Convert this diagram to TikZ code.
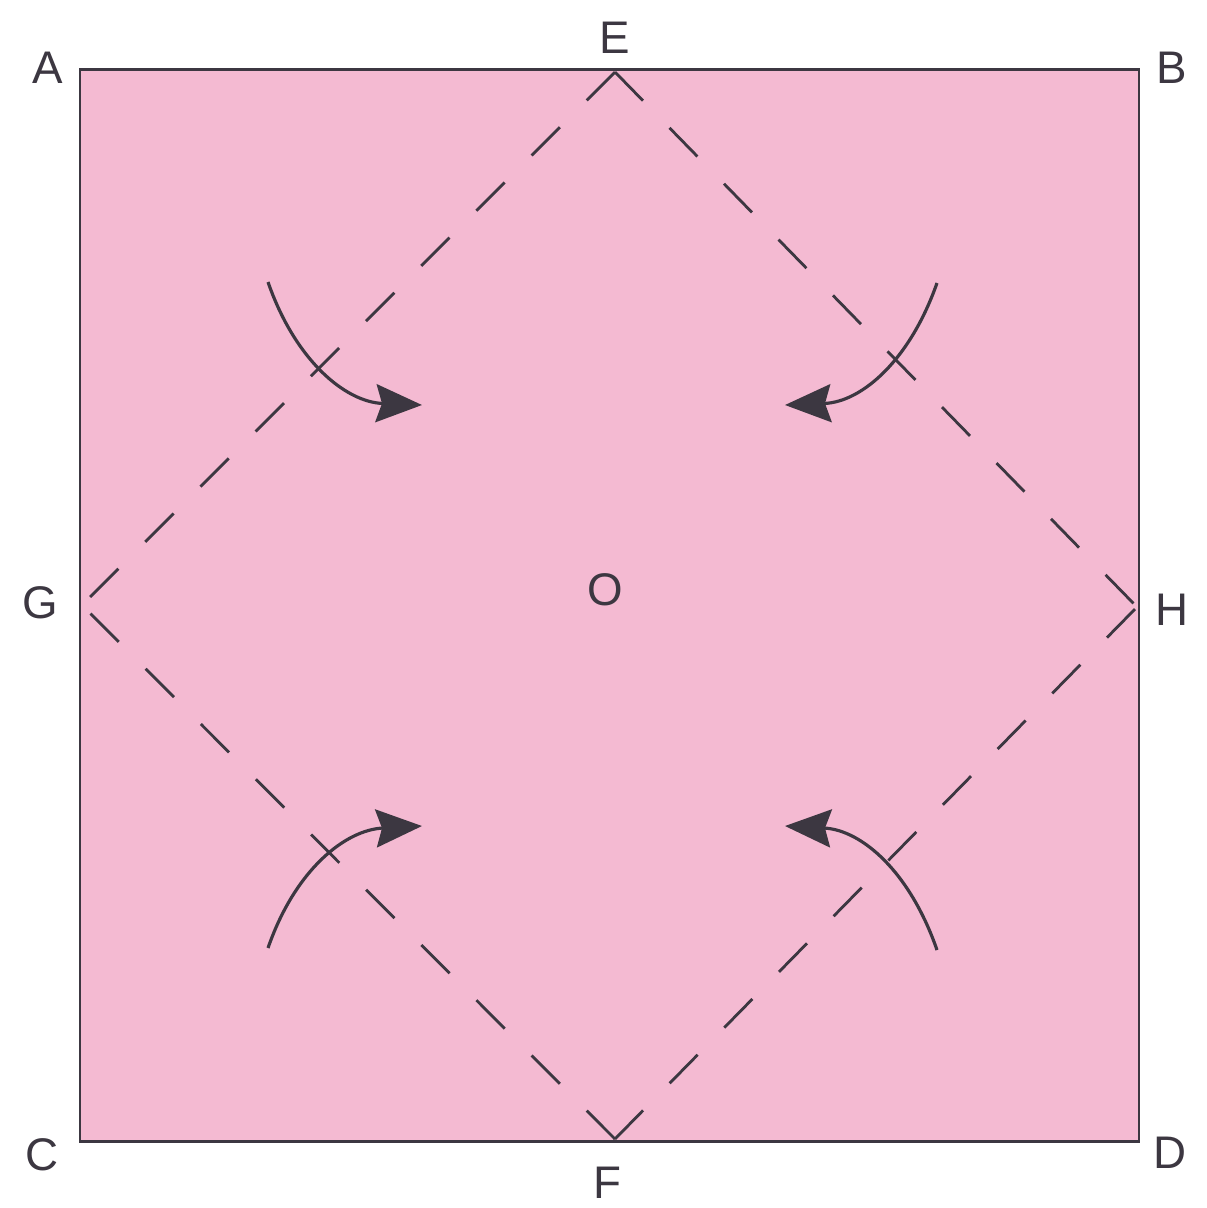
\documentclass[tikz,border=0pt]{standalone}
\usepackage{fontspec}
\setmainfont{Liberation Sans}
\usetikzlibrary{arrows.meta}
\definecolor{paper}{RGB}{244,186,210}
\definecolor{ink}{RGB}{60,55,65}
\begin{document}
\begin{tikzpicture}[x=0.01cm,y=-0.01cm,
  lbl/.style={font=\fontsize{13}{15}\selectfont, text=ink, inner sep=0pt},
  crease/.style={draw=ink, line width=0.8pt, dash pattern=on 0.4cm off 0.38cm},
  foldarrow/.style={draw=ink, line width=0.9pt, -{Stealth[length=0.46cm,width=0.38cm,inset=0.06cm]}}]
\useasboundingbox (0,0) rectangle (1207,1208);
\fill[white] (0,0) rectangle (1207,1208);
% sheet
\filldraw[fill=paper, draw=ink, line width=0.85pt] (80,69) rectangle (1139,1141);
% diamond vertices
\coordinate (e) at (615,72);
\coordinate (h) at (1137,607);
\coordinate (f) at (615,1139);
\coordinate (g) at (82,605);
\draw[crease] (e) -- (h);
\draw[crease] (e) -- (g);
\draw[crease] (f) -- (h);
\draw[crease] (f) -- (g);
% arrows
\coordinate (s1) at (268,282); \coordinate (t1) at (422,405);
\coordinate (s2) at (937,283); \coordinate (t2) at (785,405);
\coordinate (s3) at (268,948); \coordinate (t3) at (422,826);
\coordinate (s4) at (937,950); \coordinate (t4) at (785,826);
\draw[foldarrow] (s1) .. controls (295,360) and (345,402) .. (t1);
\draw[foldarrow] (s2) .. controls (910,360) and (862,402) .. (t2);
\draw[foldarrow] (s3) .. controls (295,870) and (345,830) .. (t3);
\draw[foldarrow] (s4) .. controls (910,872) and (862,830) .. (t4);
% labels
\node[lbl] (A) at (48,68) {A};
\node[lbl] (B) at (1172,68) {B};
\node[lbl] (C) at (42,1155) {C};
\node[lbl] (D) at (1170,1153) {D};
\node[lbl] (E) at (615,38) {E};
\node[lbl] (F) at (607,1183) {F};
\node[lbl] (G) at (40,603) {G};
\node[lbl] (H) at (1172,610) {H};
\node[lbl] (O) at (605,590) {O};
\end{tikzpicture}
\end{document}
